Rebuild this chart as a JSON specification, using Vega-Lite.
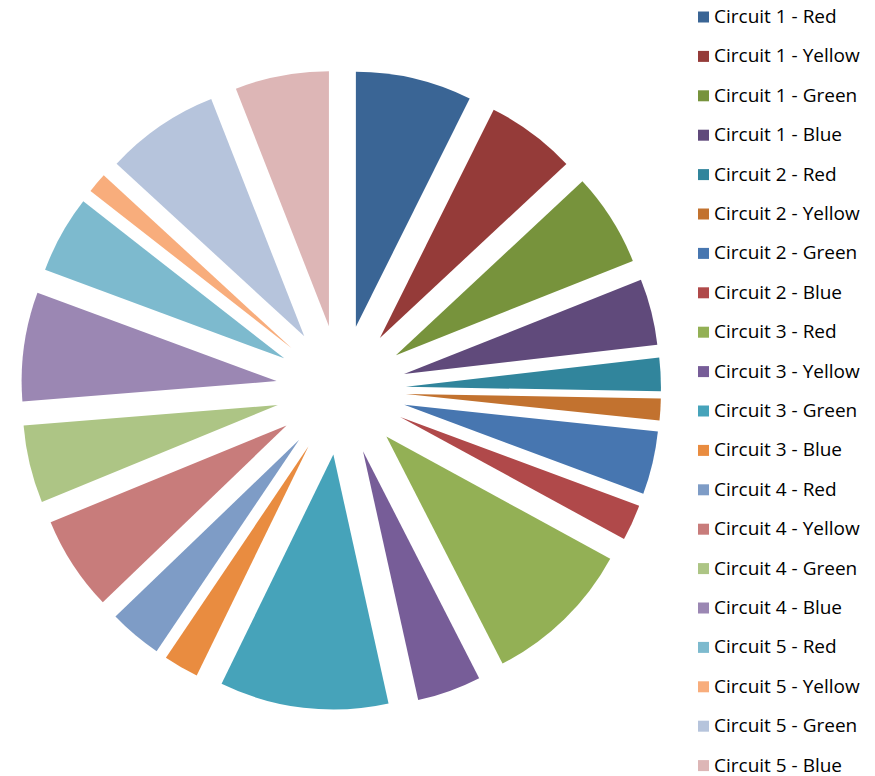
{
  "$schema": "https://vega.github.io/schema/vega-lite/v6.json",
  "width": 682,
  "height": 772,
  "padding": {"left": 0, "top": 4, "right": 0, "bottom": 0},
  "background": "white",
  "view": {"stroke": null},
  "data": {
    "values": [
      {"n": 1, "series": "Circuit 1 - Red", "value": 26.5},
      {"n": 2, "series": "Circuit 1 - Yellow", "value": 20.5},
      {"n": 3, "series": "Circuit 1 - Green", "value": 21.3},
      {"n": 4, "series": "Circuit 1 - Blue", "value": 15.1},
      {"n": 5, "series": "Circuit 2 - Red", "value": 7.6},
      {"n": 6, "series": "Circuit 2 - Yellow", "value": 5.0},
      {"n": 7, "series": "Circuit 2 - Green", "value": 14.4},
      {"n": 8, "series": "Circuit 2 - Blue", "value": 8.2},
      {"n": 9, "series": "Circuit 3 - Red", "value": 34.3},
      {"n": 10, "series": "Circuit 3 - Yellow", "value": 14.6},
      {"n": 11, "series": "Circuit 3 - Green", "value": 38.5},
      {"n": 12, "series": "Circuit 3 - Blue", "value": 8.0},
      {"n": 13, "series": "Circuit 4 - Red", "value": 12.1},
      {"n": 14, "series": "Circuit 4 - Yellow", "value": 21.6},
      {"n": 15, "series": "Circuit 4 - Green", "value": 17.7},
      {"n": 16, "series": "Circuit 4 - Blue", "value": 24.9},
      {"n": 17, "series": "Circuit 5 - Red", "value": 17.7},
      {"n": 18, "series": "Circuit 5 - Yellow", "value": 4.6},
      {"n": 19, "series": "Circuit 5 - Green", "value": 26.0},
      {"n": 20, "series": "Circuit 5 - Blue", "value": 21.4}
    ]
  },
  "mark": {
    "type": "arc",
    "outerRadius": 255,
    "innerRadius": 0,
    "xOffset": {"expr": "65*sin(scale('theta', (datum.value_start + datum.value_end)/2))"},
    "yOffset": {"expr": "-65*cos(scale('theta', (datum.value_start + datum.value_end)/2))"}
  },
  "encoding": {
    "theta": {"field": "value", "type": "quantitative", "stack": true},
    "order": {"field": "n", "type": "quantitative"},
    "color": {
      "field": "series",
      "type": "nominal",
      "scale": {
        "domain": ["Circuit 1 - Red", "Circuit 1 - Yellow", "Circuit 1 - Green", "Circuit 1 - Blue", "Circuit 2 - Red", "Circuit 2 - Yellow", "Circuit 2 - Green", "Circuit 2 - Blue", "Circuit 3 - Red", "Circuit 3 - Yellow", "Circuit 3 - Green", "Circuit 3 - Blue", "Circuit 4 - Red", "Circuit 4 - Yellow", "Circuit 4 - Green", "Circuit 4 - Blue", "Circuit 5 - Red", "Circuit 5 - Yellow", "Circuit 5 - Green", "Circuit 5 - Blue"],
        "range": ["#3A6595", "#953B39", "#77933C", "#604A7B", "#31859C", "#C2722F", "#4776B0", "#B0494A", "#93B055", "#775D98", "#46A3BA", "#E98C40", "#7E9CC6", "#C87C7B", "#ADC585", "#9B87B3", "#7DBACE", "#F8AD7C", "#B6C4DC", "#DDB6B6"]
      },
      "legend": {
        "orient": "none",
        "legendX": 694,
        "legendY": 3.5,
        "title": null,
        "symbolType": "square",
        "symbolSize": 121,
        "symbolStrokeWidth": 0,
        "labelFont": "Open Sans",
        "labelFontSize": 19,
        "labelColor": "#000000",
        "labelOffset": 1,
        "rowPadding": 19.4,
        "padding": 0,
        "labelLimit": 300
      }
    }
  }
}
